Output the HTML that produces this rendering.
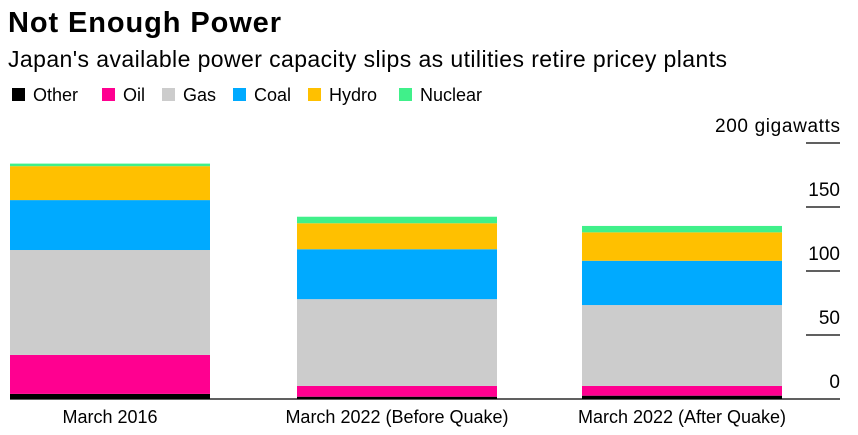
<!DOCTYPE html>
<html><head><meta charset="utf-8"><style>
body{margin:0;background:#fff;font-family:"Liberation Sans",sans-serif;}
</style></head><body>
<svg width="858" height="435" id="c" style="display:block">
<text x="8" y="32" font-size="29" font-weight="bold" fill="#000" textLength="273">Not Enough Power</text>
<text x="8" y="67" font-size="23" fill="#000" textLength="719">Japan's available power capacity slips as utilities retire pricey plants</text>
<g id="legend"></g>
<g id="grid"></g>
<g id="bars"></g>
<g id="xl"></g>
</svg>
<script>
const categories=["March 2016","March 2022 (Before Quake)","March 2022 (After Quake)"];
const series=["Other","Oil","Gas","Coal","Hydro","Nuclear"];
const other=[4,1.8,2.6];
const oil=[30.4,8.4,7.6];
const gas=[82,67.8,63.2];
const coal=[39,39,34.6];
const hydro=[26.5,20.3,22.2];
const nuclear=[2,5.1,5];
const ticks=[0,50,100,150,200];
const tickLabels=["0","50","100","150","200 gigawatts"];
const colors=["#000000","#ff0090","#cccccc","#00aaff","#ffc000","#40f08a"];
const values=[other,oil,gas,coal,hydro,nuclear];
const NS="http://www.w3.org/2000/svg";
function y(v){return 399-v*1.28;}
const barX=[10,297,582],barW=200;
const legendX=[12,102,162,233,308,399];
function mk(tag,attrs,parent){const e=document.createElementNS(NS,tag);for(const k in attrs)e.setAttribute(k,attrs[k]);parent.appendChild(e);return e;}
const lg=document.getElementById('legend');
series.forEach((s,i)=>{
 const lx=legendX[i];
 const r=mk('rect',{x:lx,y:88,width:13,height:13,fill:colors[i]},lg);
 
 
 const t=mk('text',{x:lx+21,y:101,'font-size':18,fill:'#000'},lg);
 t.textContent=s;
 
 
});
const g=document.getElementById('grid');
ticks.forEach((t,i)=>{
 if(t>0){const l=mk('line',{x1:806,x2:840,y1:y(t),y2:y(t),stroke:'#000','stroke-width':1.3},g);
 }
 const tx=mk('text',{x:840,y:y(t)-11,'font-size':19,'text-anchor':'end',fill:'#000'},g);
 tx.textContent=tickLabels[i];
 if(t===200) tx.setAttribute('textLength','125');
 
 
});
const b=document.getElementById('bars');
categories.forEach((c,ci)=>{
 let cum=0;
 values.forEach((arr,si)=>{
  const v=arr[ci];
  const r=mk('rect',{x:barX[ci],y:y(cum+v),width:barW,height:v*1.28,fill:colors[si]},b);
  
  
  cum+=v;
 });
 const t=mk('text',{x:barX[ci]+barW/2,y:423,'font-size':18,'text-anchor':'middle',fill:'#000'},document.getElementById('xl'));
 t.textContent=c;
 
 
});
const bl=mk('line',{x1:10,x2:840,y1:399,y2:399,stroke:'#000','stroke-width':1.3},g);


</script>
</body></html>
